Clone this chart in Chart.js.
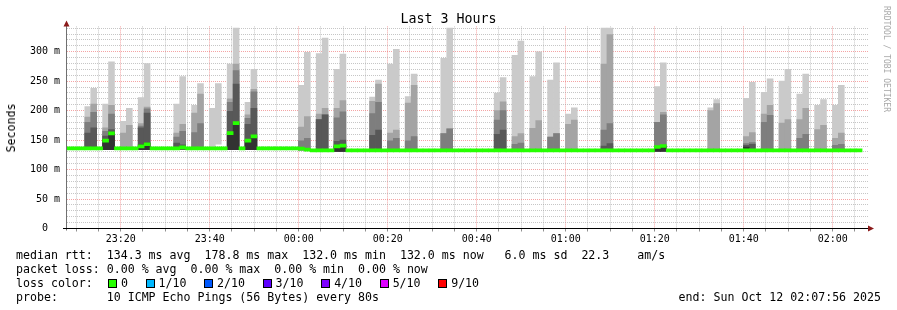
<!DOCTYPE html>
<html lang="en">

<head>
    <meta charset="UTF-8">
    <title>Last 3 Hours</title>
    <script src="https://cdn.jsdelivr.net/npm/chart.js"></script>
    <style>
        body { margin: 0; background: #fff; }
        .janela { position: relative; width: 897px; height: 310px; overflow: hidden;
                  font-family: "DejaVu Sans Mono", monospace; color: #000; }
        #grafico { position: absolute; left: 0; top: 0; }
        .texto { position: absolute; white-space: pre; font-size: 11.6px; line-height: 14px; }
        .titulo { position: absolute; left: 0; width: 897px; top: 11px; text-align: center;
                  font-size: 13.3px; line-height: 16px; white-space: pre; }
        .eixoY { position: absolute; left: 10.5px; top: 127.5px; font-size: 11.6px; line-height: 12px;
                 transform: translate(-50%, -50%) rotate(-90deg); white-space: nowrap; }
        .marca { position: absolute; left: 886px; top: 59px; font-size: 8px; line-height: 8px; color: #a8a8a8;
                 transform: translate(-50%, -50%) rotate(90deg); white-space: nowrap; }
        #perdas { display: flex; align-items: center; height: 14px; }
        .caixa { display: inline-block; width: 7px; height: 7px; border: 1px solid #000; margin-right: 4px; }
        .rotuloPerda { margin-right: 17.6px; }
    </style>
</head>

<body>
    <div class="janela">
        <canvas id="grafico" width="897" height="310"></canvas>
        <div class="titulo">Last 3 Hours</div>
        <div class="eixoY">Seconds</div>
        <div class="marca">RRDTOOL / TOBI OETIKER</div>
        <div class="texto" style="left:16px; top:248px">median rtt:  134.3 ms avg  178.8 ms max  132.0 ms min  132.0 ms now   6.0 ms sd  22.3    am/s
packet loss: 0.00 % avg  0.00 % max  0.00 % min  0.00 % now
loss color:
probe:       10 ICMP Echo Pings (56 Bytes) every 80s</div>
        <div class="texto" style="right:16px; top:290px">end: Sun Oct 12 02:07:56 2025</div>
        <div id="perdas" class="texto" style="left:108px; top:276px"></div>
    </div>
</body>

</html>

<script>
    // passos de 80 s, de 23:07:56 até 02:07:56 (minutos relativos a 00:00)
    const inicioMin = -(52 + 4 / 60);
    const passoMin = 80 / 60;
    const totalPassos = 135;

    // mediana (ms) de cada passo
    const mediana = [
        136, 136, 136, 136, 136, 136, 149, 161.5, 136, 136, 136, 136, 139.5, 143, 136,
        136, 136, 136, 136, 137.5, 136, 136, 136, 136, 136, 136, 136, 162, 179, 136,
        149, 156.5, 136, 136, 136, 136, 136, 136, 136, 135.5, 134, 132.5, 132.5, 132.5, 132.5,
        139.5, 140.5, 132.5, 132.5, 132.5, 132.5, 132.5, 132.5, 132.5, 132.5, 132.5, 132.5, 132.5, 132.5, 132.5,
        132.5, 132.5, 132.5, 132.5, 132.5, 132.5, 132.5, 132.5, 132.5, 132.5, 132.5, 132.5, 132.5, 132.5, 132.5,
        132.5, 132.5, 132.5, 132.5, 132.5, 132.5, 132.5, 132.5, 132.5, 132.5, 132.5, 132.5, 132.5, 132.5, 132.5,
        132.5, 132.5, 132.5, 132.5, 132.5, 132.5, 132.5, 132.5, 132.5, 138.3, 140, 132.5, 132.5, 132.5, 132.5,
        132.5, 132.5, 132.5, 132.5, 132.5, 132.5, 132.5, 132.5, 132.5, 132.5, 132.5, 132.5, 132.5, 132.5, 132.5,
        132.5, 132.5, 132.5, 132.5, 132.5, 132.5, 132.5, 132.5, 132.5, 132.5, 132.5, 132.5, 132.5, 132.5, null
    ];

    // passos que têm fumaça (dispersão dos 10 pings)
    const passosFumaca = [
        3, 4, 6, 7, 9, 10, 12, 13,
        18, 19, 21, 22, 24, 25, 27, 28, 30, 31,
        39, 40, 42, 43, 45, 46,
        51, 52, 54, 55, 57, 58, 63, 64,
        72, 73, 75, 76, 78, 79, 81, 82, 84, 85,
        90, 91, 99, 100,
        108, 109, 114, 115, 117, 118, 120, 121, 123, 124, 126, 127, 129, 130
    ];
    const fumacaBase = [
        134, 134, 134, 134, 134, 134, 134, 134,
        134, 134, 134, 134, 134, 143, 134, 134, 134, 134,
        133, 133, 131, 131, 131, 131,
        131, 131, 131, 131, 131, 131, 131, 131,
        131, 131, 131, 131, 131, 131, 131, 131, 131, 131,
        131, 131, 131, 131,
        131, 131, 131, 131, 131, 131, 131, 131, 131, 131, 131, 131, 131, 131
    ];
    // topo de cada faixa, da mais clara (ping máximo) para a mais escura
    const fumaca1 = [
        207, 238, 211, 283, 182, 204, 222, 280,
        211, 258, 209, 246, 204, 246, 279, 340, 214, 270,
        243, 299, 297, 323, 270, 296,
        223, 252, 279, 304, 224, 262, 289, 340,
        230, 256, 294, 318, 258, 300, 252, 281, 194, 205,
        340, 340, 241, 281,
        205, 219, 221, 248, 231, 254, 250, 270, 228, 262, 209, 219, 209, 243
    ];
    const fumaca2 = [
        189, 211, 171, 209, 162, 175, 178, 206,
        162, 177, 196, 228, null, null, 220, 279, 193, 236,
        172, 190, 194, 204, 204, 217,
        216, 245, 162, 167, 213, 243, 161, 169,
        200, 215, 156, 161, 170, 183, 155, 161, 177, 184,
        279, 329, 180, 197,
        200, 212, 156, 163, 194, 209, 179, 185, 185, 204, 168, 175, 153, 162
    ];
    const fumaca3 = [
        180, 197, 165, 194, null, null, 174, 203,
        155, 165, 163, 178, null, null, 214, 268, 187, 232,
        149, 153, 185, 193, 188, 198,
        195, 214, 149, 153, 149, 156, 161, 169,
        184, 200, 143, 145, null, null, 155, 161, null, null,
        167, 178, 180, 193,
        null, null, 144, 146, 180, 192, null, null, 153, 160, null, null, 141, 143
    ];
    const fumaca4 = [
        162, 171, 157, 168, null, null, 171, 196,
        145, 142, null, null, null, null, 199, 245, 177, 204,
        null, null, 185, 193, 148, 150,
        158, 167, null, null, null, null, null, null,
        160, 167, null, null, null, null, null, null, null, null,
        140, 144, null, null,
        null, null, 141, 143, null, null, null, null, null, null, null, null, null, null
    ];
    const fumaca5 = [
        null, null, 151, 162, null, null, 142, 145,
        null, null, null, null, null, null, 162, 179, 149, 157,
        null, null, null, null, 140, 141,
        null, null, null, null, null, null, null, null,
        null, null, null, null, null, null, null, null, null, null,
        null, null, 138, 140,
        null, null, 138, null, null, null, null, null, null, null, null, null, null, null
    ];

    const rotulosX = ['23:20', '23:40', '00:00', '00:20', '00:40', '01:00', '01:20', '01:40', '02:00'];
    const valoresY = [0, 50, 100, 150, 200, 250, 300];
    const rotulosY = ['0  ', '50 m', '100 m', '150 m', '200 m', '250 m', '300 m'];

    const perdasRotulos = ['0', '1/10', '2/10', '3/10', '4/10', '5/10', '9/10'];
    const perdasCores = ['#26ff00', '#00b8ff', '#0059ff', '#5e00ff', '#7e00ff', '#dd00ff', '#ff0000'];

    const coresFumaca = ['#cacaca', '#a4a4a4', '#7e7e7e', '#585858', '#323232'];
    const corGrade = 'rgba(160, 160, 160, 0.6)';
    const corGradePrincipal = 'rgba(235, 90, 90, 0.55)';

    // legenda das cores de perda
    const perdas = document.getElementById('perdas');
    for (let i = 0; i < perdasRotulos.length; i++) {
        const caixa = document.createElement('span');
        caixa.className = 'caixa';
        caixa.style.background = perdasCores[i];
        const rotulo = document.createElement('span');
        rotulo.className = 'rotuloPerda';
        rotulo.textContent = perdasRotulos[i];
        perdas.appendChild(caixa);
        perdas.appendChild(rotulo);
    }

    function centroPasso(p) {
        return inicioMin + (p + 0.5) * passoMin;
    }

    function minutosDoRotulo(r) {
        const partes = r.split(':').map(Number);
        return (partes[0] >= 12 ? partes[0] - 24 : partes[0]) * 60 + partes[1];
    }

    const ticksPrincipaisX = rotulosX.map(minutosDoRotulo);
    const fimMin = inicioMin + totalPassos * passoMin;

    // faixas de fumaça como barras flutuantes
    function camadaFumaca(topos, cor, ordem) {
        const pontos = [];
        for (let i = 0; i < passosFumaca.length; i++) {
            if (topos[i] == null) continue;
            pontos.push({ x: centroPasso(passosFumaca[i]), y: [fumacaBase[i], topos[i]] });
        }
        return { data: pontos, backgroundColor: cor, order: ordem };
    }

    // mediana desenhada como uma faixa fina (como o smokeping faz)
    const meiaEspessura = 2.6;
    const pontosMediana = [];
    for (let i = 0; i < mediana.length; i++) {
        if (mediana[i] == null) continue;
        pontosMediana.push({ x: centroPasso(i), y: [mediana[i] - meiaEspessura, mediana[i] + meiaEspessura] });
    }

    const eixos = {
        id: 'eixos',
        afterDatasetsDraw(chart) {
            const { ctx, chartArea: a } = chart;
            const xe = Math.round(a.left) - 0.5;
            const yb = Math.floor(a.bottom) + 0.5;
            ctx.save();
            ctx.lineWidth = 1;
            ctx.strokeStyle = '#707070';
            ctx.beginPath();
            ctx.moveTo(xe, yb + 2);
            ctx.lineTo(xe, a.top - 3);
            ctx.stroke();
            ctx.strokeStyle = '#000';
            ctx.beginPath();
            ctx.moveTo(a.left - 4, yb);
            ctx.lineTo(a.right + 1, yb);
            ctx.stroke();
            ctx.fillStyle = '#8b1a1a';
            ctx.beginPath();
            ctx.moveTo(xe, a.top - 6);
            ctx.lineTo(xe - 3, a.top);
            ctx.lineTo(xe + 3, a.top);
            ctx.closePath();
            ctx.fill();
            ctx.beginPath();
            ctx.moveTo(a.right + 6, yb);
            ctx.lineTo(a.right, yb - 3);
            ctx.lineTo(a.right, yb + 3);
            ctx.closePath();
            ctx.fill();
            ctx.restore();
        }
    };

    const config = {
        type: 'bar',
        data: {
            datasets: [
                camadaFumaca(fumaca1, coresFumaca[0], 6),
                camadaFumaca(fumaca2, coresFumaca[1], 5),
                camadaFumaca(fumaca3, coresFumaca[2], 4),
                camadaFumaca(fumaca4, coresFumaca[3], 3),
                camadaFumaca(fumaca5, coresFumaca[4], 2),
                { data: pontosMediana, backgroundColor: perdasCores[0], order: 1 }
            ]
        },
        options: {
            responsive: false,
            animation: false,
            events: [],
            layout: { padding: { left: 0, right: 29, top: 26.4, bottom: 0 } },
            plugins: { legend: { display: false }, tooltip: { enabled: false }, title: { display: false } },
            datasets: {
                bar: { grouped: false, barPercentage: 1, categoryPercentage: 1, borderWidth: 0 }
            },
            scales: {
                x: {
                    type: 'linear',
                    min: inicioMin,
                    max: fimMin,
                    offset: false,
                    afterFit: (s) => { s.height = 81.5; },
                    afterBuildTicks: (s) => {
                        const lista = [];
                        for (let v = Math.ceil(inicioMin / 5) * 5; v <= fimMin; v += 5) lista.push({ value: v });
                        s.ticks = lista;
                    },
                    border: { display: false, dash: [1, 1] },
                    grid: {
                        offset: false,
                        lineWidth: 1,
                        color: (c) => (c.tick && c.tick.value % 20 === 0) ? corGradePrincipal : corGrade,
                        drawTicks: true,
                        tickLength: 3,
                        tickColor: '#909090',
                        tickBorderDash: []
                    },
                    ticks: {
                        autoSkip: false,
                        maxRotation: 0,
                        minRotation: 0,
                        padding: 2,
                        color: '#000',
                        font: { family: 'DejaVu Sans Mono', size: 10 },
                        callback: (v) => {
                            const i = ticksPrincipaisX.indexOf(v);
                            return i >= 0 ? rotulosX[i] : '';
                        }
                    }
                },
                y: {
                    min: 0,
                    max: 343,
                    afterFit: (s) => { s.width = 67; },
                    afterBuildTicks: (s) => {
                        const lista = [];
                        for (let v = 0; v <= 340; v += 10) lista.push({ value: v });
                        s.ticks = lista;
                    },
                    border: { display: false, dash: [1, 1] },
                    grid: {
                        lineWidth: 1,
                        drawTicks: false,
                        color: (c) => {
                            if (!c.tick || c.tick.value === 0) return 'rgba(0,0,0,0)';
                            return c.tick.value % 50 === 0 ? corGradePrincipal : corGrade;
                        }
                    },
                    ticks: {
                        autoSkip: false,
                        padding: 7,
                        color: '#000',
                        font: { family: 'DejaVu Sans Mono', size: 10 },
                        callback: (v) => {
                            const i = valoresY.indexOf(v);
                            return i >= 0 ? rotulosY[i] : '';
                        }
                    }
                }
            }
        },
        plugins: [eixos]
    };

    let grafico = new Chart(document.getElementById('grafico'), config);
</script>
